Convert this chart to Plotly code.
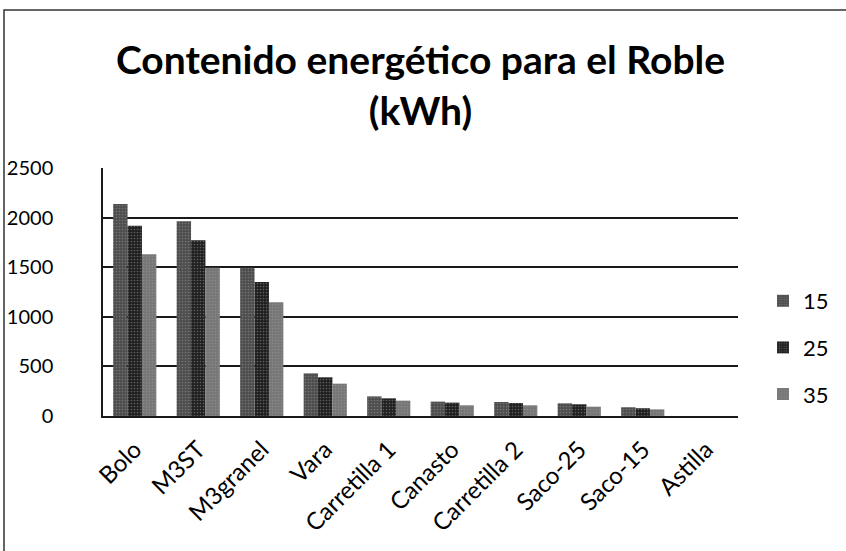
import plotly.graph_objects as go

categories = ["Bolo", "M3ST", "M3granel", "Vara", "Carretilla 1", "Canasto",
              "Carretilla 2", "Saco-25", "Saco-15", "Astilla"]
series_names = ["15", "25", "35"]
values_15 = [2137, 1962, 1495, 430, 198, 145, 141, 128, 88, 0]
values_25 = [1918, 1771, 1351, 390, 178, 135, 131, 118, 78, 0]
values_35 = [1630, 1495, 1146, 326, 155, 108, 108, 94, 67, 0]
y_ticks = [0, 500, 1000, 1500, 2000, 2500]

colors = ["#4d4d4d", "#1f1f1f", "#767676"]
FONT = "Lato, Calibri, 'Open Sans', sans-serif"

fig = go.Figure()
for name, vals, col in zip(series_names, [values_15, values_25, values_35], colors):
    fig.add_trace(go.Bar(
        x=categories, y=vals, name=name, legendgroup=name,
        marker=dict(color=col, line=dict(width=0),
                    pattern=dict(shape=".", fgcolor="#9a9a9a", size=3, solidity=0.25)),
    ))

W, H = 846, 551
L, R, T, B = 103, 108, 168, 135
pw, ph = W - L - R, H - T - B

def px_x(p):
    return (p - L) / pw

def px_y(p):
    return (H - B - p) / ph

fig.add_shape(type="rect", xref="paper", yref="paper",
              x0=px_x(4), x1=px_x(860), y0=px_y(570), y1=px_y(10),
              line=dict(color="#333333", width=1.5), layer="below")

fig.update_layout(
    width=W, height=H,
    margin=dict(l=L, r=R, t=T, b=B, autoexpand=False),
    paper_bgcolor="white", plot_bgcolor="white",
    barmode="group", bargap=0.32, bargroupgap=0,
    title=dict(text="<b>Contenido energético para el Roble<br>(kWh)</b>",
               x=0.5, xanchor="center", xref="paper",
               y=1 - 74 / H, yanchor="top", yref="container",
               font=dict(family=FONT, size=39, color="black")),
    font=dict(family=FONT, size=20, color="black"),
    legend=dict(x=px_x(763), y=px_y(280), xanchor="left", yanchor="top",
                traceorder="grouped", tracegroupgap=15,
                font=dict(size=22), itemwidth=30, bgcolor="rgba(0,0,0,0)"),
    showlegend=True,
)
fig.update_yaxes(range=[0, 2500], tickvals=y_ticks, showgrid=True,
                 gridcolor="#1a1a1a", gridwidth=1.5, showline=True,
                 linecolor="#1a1a1a", linewidth=1.5, zeroline=False,
                 ticks="", ticklabelstandoff=44, tickfont=dict(size=20),
                 automargin=False)
fig.update_xaxes(showline=True, linecolor="#1a1a1a", linewidth=2, ticks="",
                 tickangle=-45, tickfont=dict(size=24), showgrid=False,
                 ticklabelstandoff=8, automargin=False)

fig.write_html("out.html", config={"displayModeBar": False},
               post_script="document.body.style.margin='0';")
